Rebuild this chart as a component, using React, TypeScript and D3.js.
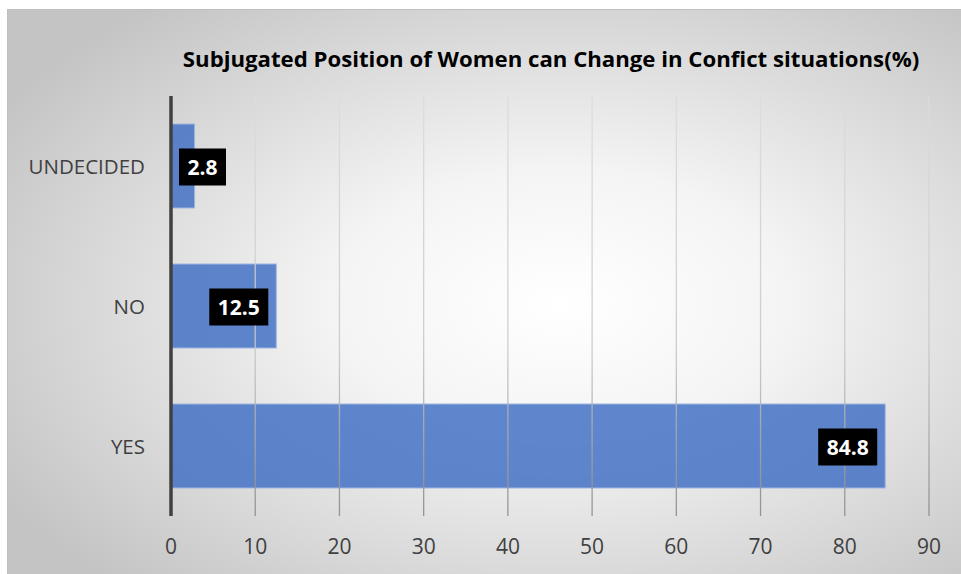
import { useEffect, useRef } from 'react'
import * as d3 from 'd3'

const categories = ['UNDECIDED', 'NO', 'YES']
const values = [2.8, 12.5, 84.8]
const xTicks = [0, 10, 20, 30, 40, 50, 60, 70, 80, 90]
const title = 'Subjugated Position of Women can Change in Confict situations(%)'

export default function App() {
  const svgRef = useRef<SVGSVGElement>(null)

  useEffect(() => {
    document.body.style.margin = '0'
    if (!svgRef.current) return
    const width = 961
    const height = 574
    const margin = { top: 96, right: 32, bottom: 58, left: 171 }
    const innerH = height - margin.top - margin.bottom

    const svg = d3.select(svgRef.current)
    svg.selectAll('*').remove()
    svg.attr('width', width).attr('height', height)

    const defs = svg.append('defs')
    const bg = defs.append('radialGradient')
      .attr('id', 'bg')
      .attr('cx', '58%').attr('cy', '52%').attr('r', '68%')
    bg.append('stop').attr('offset', '0%').attr('stop-color', '#ffffff')
    bg.append('stop').attr('offset', '35%').attr('stop-color', '#f4f4f4')
    bg.append('stop').attr('offset', '100%').attr('stop-color', '#c4c4c4')

    const gridGrad = defs.append('linearGradient')
      .attr('id', 'gridGrad')
      .attr('gradientUnits', 'userSpaceOnUse')
      .attr('x1', 0).attr('x2', 0)
      .attr('y1', 0).attr('y2', innerH)
    gridGrad.append('stop').attr('offset', '0%').attr('stop-color', '#dcdcdc')
    gridGrad.append('stop').attr('offset', '60%').attr('stop-color', '#c8c8c8')
    gridGrad.append('stop').attr('offset', '100%').attr('stop-color', '#8a8a8a')

    // Background
    svg.append('rect')
      .attr('x', 7.5).attr('y', 9.5)
      .attr('width', width - 7).attr('height', height - 9)
      .attr('fill', 'url(#bg)')
      .attr('stroke', '#bfbfbf')
      .attr('stroke-width', 1)

    // Title
    svg.append('text')
      .attr('x', 551)
      .attr('y', 67)
      .attr('text-anchor', 'middle')
      .attr('font-family', 'Open Sans, sans-serif')
      .attr('font-weight', 700)
      .attr('font-size', '22.2px')
      .attr('fill', '#000')
      .text(title)

    const x = d3.scaleLinear().domain([0, 90]).range([0, 758])
    const y = d3.scaleBand().domain(categories).range([0, innerH])
      .paddingInner(0.4).paddingOuter(0.2)

    const g = svg.append('g').attr('transform', `translate(${margin.left},${margin.top})`)

    // Bars
    g.selectAll('rect.bar')
      .data(values)
      .enter().append('rect')
      .attr('class', 'bar')
      .attr('x', 0)
      .attr('y', (_, i) => y(categories[i]) ?? 0)
      .attr('width', d => x(d))
      .attr('height', y.bandwidth())
      .attr('fill', '#4472c4')
      .attr('fill-opacity', 0.85)
      .attr('stroke', '#9db5e0')
      .attr('stroke-width', 1)

    // Grid lines
    g.append('g')
      .selectAll('line')
      .data(xTicks.slice(1))
      .enter().append('line')
      .attr('x1', d => x(d))
      .attr('x2', d => x(d))
      .attr('y1', 0)
      .attr('y2', innerH)
      .attr('stroke', 'url(#gridGrad)')
      .attr('stroke-opacity', 0.9)
      .attr('stroke-width', 1.3)

    // Category axis line
    g.append('line')
      .attr('x1', 0).attr('x2', 0)
      .attr('y1', 0).attr('y2', innerH)
      .attr('stroke', '#404040')
      .attr('stroke-width', 3.5)

    // Tick labels
    g.append('g')
      .selectAll('text')
      .data(xTicks)
      .enter().append('text')
      .attr('x', d => x(d))
      .attr('y', innerH + 38)
      .attr('text-anchor', 'middle')
      .attr('font-family', 'Open Sans, sans-serif')
      .attr('font-size', '21px')
      .attr('fill', '#404040')
      .text(d => d)

    // Category labels
    g.append('g')
      .selectAll('text')
      .data(categories)
      .enter().append('text')
      .attr('x', -26)
      .attr('y', d => (y(d) ?? 0) + y.bandwidth() / 2 + 1)
      .attr('dy', '0.35em')
      .attr('text-anchor', 'end')
      .attr('font-family', 'Open Sans, sans-serif')
      .attr('font-size', '20.5px')
      .attr('fill', '#404040')
      .text(d => d)

    // Data labels
    const boxH = 37
    values.forEach((v, i) => {
      const label = String(v)
      const boxW = label.length * 12 + 11
      const end = x(v)
      const bx = Math.max(end - 8 - boxW, 8)
      const by = (y(categories[i]) ?? 0) + y.bandwidth() / 2 - boxH / 2 + 1
      g.append('rect')
        .attr('x', bx).attr('y', by)
        .attr('width', boxW).attr('height', boxH)
        .attr('fill', '#000')
      g.append('text')
        .attr('x', bx + boxW / 2)
        .attr('y', by + boxH / 2)
        .attr('dy', '0.36em')
        .attr('text-anchor', 'middle')
        .attr('font-family', 'Open Sans, sans-serif')
        .attr('font-weight', 700)
        .attr('font-size', '21px')
        .attr('fill', '#fff')
        .text(label)
    })
  }, [])

  return <svg ref={svgRef} style={{ display: 'block' }} />
}
